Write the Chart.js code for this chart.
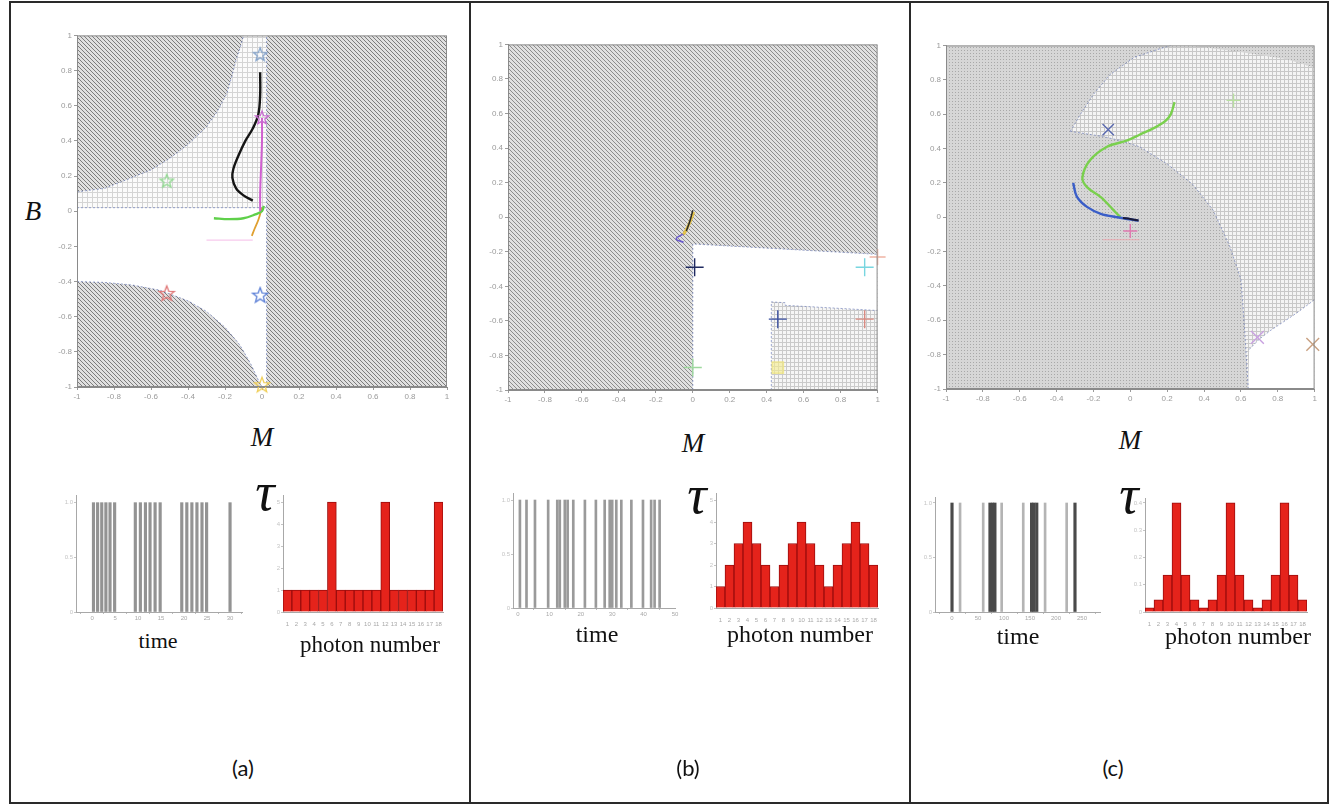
<!DOCTYPE html>
<html>
<head>
<meta charset="utf-8">
<script src="https://cdn.jsdelivr.net/npm/chart.js@4.4.1/dist/chart.umd.min.js"></script>
<style>
  html, body { margin: 0; padding: 0; background: #fff; }
  #fig { position: relative; width: 1330px; height: 806px; overflow: hidden; background: #fff; }
  .box { position: absolute; }
  .lbl { position: absolute; transform: translate(-50%, -50%); white-space: nowrap; color: #111; line-height: 1; }
  .serif { font-family: "Liberation Serif", "DejaVu Serif", serif; }
  .it { font-style: italic; }
  .sans { font-family: Lato, "Liberation Sans", sans-serif; }
  .rule { position: absolute; background: #2a2a2a; }
</style>
</head>
<body>
<div id="fig"></div>
<script>
// ---------- axis ticks ----------
const mbTicks = [-1, -0.8, -0.6, -0.4, -0.2, 0, 0.2, 0.4, 0.6, 0.8, 1];
const mbTickLabels = ['-1', '-0.8', '-0.6', '-0.4', '-0.2', '0', '0.2', '0.4', '0.6', '0.8', '1'];
const photonBins = ['1','2','3','4','5','6','7','8','9','10','11','12','13','14','15','16','17','18'];
const timeTicksA = [0, 5, 10, 15, 20, 25, 30];
const timeTicksB = [0, 10, 20, 30, 40, 50];
const timeTicksC = [0, 50, 100, 150, 200, 250];
const spikeYTicks = [0, 0.5, 1];
const histTicksAB = [0, 1, 2, 3, 4, 5];
const histTicksC = [0, 0.1, 0.2, 0.3, 0.4];

// ---------- panel (a): (M, B) plane ----------
const aGridZone   = [[-1, 0.02], [-1, 1], [0.025, 1], [0.025, 0.02]];
const aUpperHatch = [[-1, 1], [-1, 0.11], [-0.85, 0.13], [-0.73, 0.18], [-0.6, 0.235], [-0.5, 0.30], [-0.4, 0.38],
                     [-0.3, 0.48], [-0.24, 0.57], [-0.19, 0.67], [-0.165, 0.76], [-0.14, 0.86], [-0.115, 0.94], [-0.10, 1]];
const aLowerHatch = [[-1, -1], [-1, -0.40], [-0.85, -0.405], [-0.7, -0.42], [-0.55, -0.45], [-0.4, -0.51], [-0.3, -0.57],
                     [-0.2, -0.66], [-0.12, -0.76], [-0.06, -0.87], [-0.02, -0.96], [0, -1]];
const aRightHatch = [[0.025, -1], [0.025, 1], [1, 1], [1, -1]];
const aBlackPath   = [[-0.01, 0.79], [-0.01, 0.66], [-0.02, 0.55], [-0.05, 0.47], [-0.09, 0.40], [-0.13, 0.31],
                      [-0.155, 0.24], [-0.16, 0.19], [-0.14, 0.13], [-0.10, 0.09], [-0.05, 0.06]];
const aMagentaPath = [[0.0, 0.53], [0.0, 0.40], [-0.005, 0.25], [-0.01, 0.10], [-0.01, 0.0]];
const aGreenPath   = [[-0.26, -0.04], [-0.18, -0.045], [-0.10, -0.04], [-0.04, -0.02], [0.0, 0.0], [0.01, 0.03]];
const aOrangePath  = [[0.0, 0.02], [-0.02, -0.05], [-0.04, -0.10], [-0.055, -0.14]];
const aPinkPath    = [[-0.30, -0.165], [-0.05, -0.165]];
const aStarTop     = [-0.01, 0.89];
const aStarMagenta = [0.0, 0.53];
const aStarGreen   = [-0.515, 0.17];
const aStarRed     = [-0.515, -0.47];
const aStarBlue    = [-0.01, -0.48];
const aStarYellow  = [0.0, -0.99];

// ---------- panel (b) ----------
const bHatchAll = [[-1, -1], [-1, 1], [1, 1], [1, -1]];
const bClearZone = [[0, -1], [0, -0.155], [0.5, -0.185], [1, -0.215], [1, -1]];
const bGridZone  = [[0.425, -1], [0.425, -0.49], [0.5, -0.495], [0.5, -0.51], [1, -0.54], [1, -1]];
const bYellowPath = [[0.005, 0.03], [-0.02, -0.04], [-0.05, -0.10]];
const bBlackPath  = [[0.0, 0.04], [-0.015, -0.02], [-0.035, -0.08]];
const bPurplePath = [[-0.04, -0.09], [-0.09, -0.125], [-0.05, -0.145]];
const bPlusNavy   = [0.01, -0.29];
const bPlusCyan   = [0.93, -0.29];
const bPlusBlue   = [0.46, -0.59];
const bPlusSalmon = [0.93, -0.59];
const bPlusGreen  = [0.0, -0.87];
const bPlusEdge   = [1.0, -0.23];
const bSquareYellow = [0.46, -0.87];

// ---------- panel (c) ----------
const cShadeAll = [[-1, -1], [-1, 1], [1, 1], [1, -1]];
const cGridZone = [[-0.325, 0.50], [-0.27, 0.60], [-0.20, 0.715], [-0.11, 0.83], [0.02, 0.93], [0.16, 0.98], [0.22, 1.0],
                   [0.32, 1.0], [0.58, 0.965], [0.85, 0.92], [1.0, 0.87], [1.0, -1], [0.64, -1], [0.62, -0.65],
                   [0.60, -0.36], [0.54, -0.17], [0.45, 0.04], [0.34, 0.19], [0.20, 0.31], [0.05, 0.41],
                   [-0.05, 0.445], [-0.15, 0.47], [-0.325, 0.50]];
const cClearZone = [[0.64, -1], [0.645, -0.77], [0.70, -0.71], [0.76, -0.66], [0.83, -0.61], [0.90, -0.56], [1.0, -0.48], [1.0, -1]];
const cGreenPath = [[0.24, 0.67], [0.22, 0.60], [0.19, 0.56], [0.13, 0.52], [0.05, 0.48], [-0.02, 0.445], [-0.126, 0.41],
                    [-0.22, 0.33], [-0.26, 0.23], [-0.235, 0.175], [-0.16, 0.117], [-0.09, 0.04], [-0.054, 0.0]];
const cBluePath  = [[-0.31, 0.20], [-0.29, 0.12], [-0.235, 0.06], [-0.16, 0.02], [-0.07, 0.0], [0.045, -0.02]];
const cBlackPath = [[-0.04, -0.005], [0.0, -0.01], [0.045, -0.02]];
const cPinkPath  = [[-0.15, -0.13], [0.05, -0.13]];
const cCrossBlue   = [-0.12, 0.51];
const cPlusGreen   = [0.56, 0.68];
const cPlusPink    = [0.0, -0.08];
const cCrossPurple = [0.69, -0.70];
const cCrossTan    = [0.99, -0.74];

// ---------- spike trains ----------
const spikesA = [0.3, 1.2, 2.1, 3.0, 3.9, 4.9, 9.4, 10.5, 11.6, 12.6, 13.7, 14.8, 19.5, 20.6, 21.7, 22.8, 23.9, 24.9, 30.0];
const spikesB = [0.6, 2.7, 5.4, 9.6, 12.5, 13.3, 14.9, 15.8, 17.6, 21.3, 24.8, 27.6, 29.2, 30.0, 31.3, 32.9, 36.1, 39.8, 42.4, 43.5, 45.1];
const spikesCDark  = [0, 73, 78, 82.5, 153, 157.5, 163, 236.5];
const spikesCLight = [15.5, 60, 95.5, 137, 179, 220.5];

// ---------- photon-number histograms ----------
const histA = [1, 1, 1, 1, 1, 5, 1, 1, 1, 1, 1, 5, 1, 1, 1, 1, 1, 5];
const histB = [1, 2, 3, 4, 3, 2, 1, 2, 3, 4, 3, 2, 1, 2, 3, 4, 3, 2];
const histC = [0.015, 0.045, 0.135, 0.4, 0.135, 0.045, 0.015, 0.045, 0.135, 0.4, 0.135, 0.045, 0.015, 0.045, 0.135, 0.4, 0.135, 0.045];

// ================= drawing =================
const fig = document.getElementById('fig');

function tile(size, paint) {
  const c = document.createElement('canvas');
  c.width = c.height = size;
  const g = c.getContext('2d');
  paint(g, size);
  return g.createPattern(c, 'repeat');
}
function hatch(size, bg, fg, lw) {
  return tile(size, (g, s) => {
    g.fillStyle = bg; g.fillRect(0, 0, s, s);
    g.strokeStyle = fg; g.lineWidth = lw; g.beginPath();
    g.moveTo(-1, -1); g.lineTo(s + 1, s + 1);
    g.moveTo(-1, s - 1); g.lineTo(1, s + 1);
    g.moveTo(s - 1, -1); g.lineTo(s + 1, 1);
    g.stroke();
  });
}
function gridTile(size, bg, fg) {
  return tile(size, (g, s) => {
    g.fillStyle = bg; g.fillRect(0, 0, s, s);
    g.fillStyle = fg; g.fillRect(0, 0, s, 1); g.fillRect(0, 0, 1, s);
  });
}
function dotTile(size, bg, fg) {
  return tile(size, (g, s) => {
    g.fillStyle = bg; g.fillRect(0, 0, s, s);
    g.fillStyle = fg; g.fillRect(0, 0, 1, 1);
  });
}
function pentagram(color, r) {
  const s = Math.ceil(2 * r + 4), c = document.createElement('canvas');
  c.width = c.height = s;
  const g = c.getContext('2d');
  g.translate(s / 2, s / 2);
  g.beginPath();
  for (let i = 0; i < 10; i++) {
    const a = -Math.PI / 2 + i * Math.PI / 5, rr = i % 2 ? r * 0.42 : r;
    g.lineTo(rr * Math.cos(a), rr * Math.sin(a));
  }
  g.closePath();
  g.strokeStyle = color; g.lineWidth = 1.3; g.stroke();
  return c;
}

const hatchA = hatch(4, '#e0e0e0', '#7c7c7c', 1.0);
const hatchB = hatch(4, '#e0e0e0', '#8c8c8c', 1.0);
const gridA = gridTile(5, '#fbfbfb', '#d4d4d4');
const gridB = gridTile(4, '#f6f6f6', '#cacaca');
const gridC = gridTile(4, '#f4f4f4', '#c8c8c8');
const shadeC = dotTile(3, '#d6d6d6', '#a8a8a8');

const framePlugin = {
  id: 'frame',
  afterDatasetsDraw(chart) {
    const { ctx, chartArea: a } = chart;
    ctx.save();
    ctx.strokeStyle = '#8a8a8a';
    ctx.lineWidth = 1;
    ctx.strokeRect(a.left + 0.5, a.top + 0.5, a.width - 1, a.height - 1);
    ctx.restore();
  }
};

function makeChart(rect, pad, config) {
  const w = rect.r - rect.l + pad.l + pad.r;
  const h = rect.b - rect.t + pad.t + pad.b;
  const div = document.createElement('div');
  div.className = 'box';
  div.style.left = (rect.l - pad.l) + 'px';
  div.style.top = (rect.t - pad.t) + 'px';
  div.style.width = w + 'px';
  div.style.height = h + 'px';
  const c = document.createElement('canvas');
  c.width = w; c.height = h;
  c.style.width = w + 'px'; c.style.height = h + 'px';
  div.appendChild(c);
  fig.appendChild(div);
  const o = config.options;
  o.responsive = false;
  o.animation = false;
  o.devicePixelRatio = 1;
  o.events = [];
  o.layout = { padding: { top: pad.t, right: pad.r, left: 0, bottom: 0 } };
  o.scales.x.afterFit = s => { s.height = pad.b; };
  o.scales.y.afterFit = s => { s.width = pad.l; };
  o.plugins = { legend: { display: false }, tooltip: { enabled: false } };
  return new Chart(c, config);
}

const pts = arr => arr.map(([x, y]) => ({ x, y }));
function zone(arr, pattern, order) {
  return { data: pts(arr), showLine: true, fill: 'shape', backgroundColor: pattern, borderWidth: 0, pointRadius: 0, tension: 0, order };
}
function edge(arr, order) {
  return { data: pts(arr), showLine: true, fill: false, borderColor: 'rgba(80,100,175,0.55)', borderWidth: 1, borderDash: [2, 2], pointRadius: 0, tension: 0, order };
}
function path(arr, color, width, order = 5) {
  return { data: pts(arr), showLine: true, fill: false, borderColor: color, borderWidth: width, pointRadius: 0, tension: 0.35, order };
}
function mark(p, style, color, r = 7, order = 1, fillColor) {
  return { data: pts([p]), pointStyle: style, pointRadius: r, borderColor: color, backgroundColor: fillColor || color,
           borderWidth: 1.4, pointBorderWidth: 1.4, order, clip: false };
}

function phasePlot(rect, datasets) {
  const axis = pos => ({
    type: 'linear', position: pos, min: -1, max: 1,
    afterBuildTicks: s => { s.ticks = mbTicks.map(v => ({ value: v })); },
    ticks: { callback: (v, i) => mbTickLabels[i], font: { size: 8, family: 'Liberation Sans' }, color: '#9a9a9a', padding: 2, maxRotation: 0, autoSkip: false },
    grid: { drawOnChartArea: false, drawTicks: true, tickLength: 3, color: '#9a9a9a' },
    border: { display: true, color: '#8a8a8a' }
  });
  return makeChart(rect, { l: 30, r: 10, t: 8, b: 22 }, {
    type: 'scatter', data: { datasets },
    options: { scales: { x: axis('bottom'), y: axis('left') } },
    plugins: [framePlugin]
  });
}

function smallAxes(xcfg, ymax, yticks) {
  return {
    x: Object.assign({ ticks: { font: { size: 6 }, color: '#a8a8a8', padding: 1, maxRotation: 0, autoSkip: false },
                       grid: { drawOnChartArea: false, tickLength: 2, color: '#bbb' }, border: { color: '#a8a8a8' } }, xcfg),
    y: { type: 'linear', min: 0, max: ymax,
         afterBuildTicks: s => { s.ticks = yticks.map(v => ({ value: v })); },
         ticks: { font: { size: 6 }, color: '#c4c4c4', padding: 1 },
         grid: { drawOnChartArea: false, tickLength: 2, color: '#c4c4c4' }, border: { color: '#a8a8a8' } }
  };
}

function spikePlot(rect, datasets, xmin, xmax, xticks, ymax) {
  return makeChart(rect, { l: 20, r: 6, t: 6, b: 14 }, {
    type: 'bar', data: { datasets },
    options: { scales: smallAxes({ type: 'linear', min: xmin, max: xmax, offset: false,
                                   afterBuildTicks: s => { s.ticks = xticks.map(v => ({ value: v })); } }, ymax, spikeYTicks) }
  });
}
function spikeSet(times, color, thick) {
  return { data: times.map(t => ({ x: t, y: 1 })), backgroundColor: color, barThickness: thick, grouped: false };
}

function histPlot(rect, values, ymax, yticks) {
  return makeChart(rect, { l: 20, r: 6, t: 6, b: 14 }, {
    type: 'bar',
    data: { labels: photonBins, datasets: [{ data: values, backgroundColor: '#e5231b', borderColor: '#9b0d0d', borderWidth: 1,
                                              barPercentage: 1, categoryPercentage: 1 }] },
    options: { scales: smallAxes({ grid: { display: false } }, ymax, yticks) }
  });
}

// ---- (a) ----
phasePlot({ l: 77, r: 447, t: 35, b: 387 }, [
  mark(aStarTop, pentagram('#7f9fc8', 7), '#7f9fc8'),
  mark(aStarMagenta, pentagram('#c86ad0', 7), '#c86ad0'),
  mark(aStarGreen, pentagram('#8fd88f', 7), '#8fd88f'),
  mark(aStarRed, pentagram('#e07878', 8), '#e07878'),
  mark(aStarBlue, pentagram('#5b7fd6', 8), '#5b7fd6'),
  mark(aStarYellow, pentagram('#f0cf5a', 8), '#f0cf5a'),
  path(aBlackPath, '#151515', 2.4),
  path(aMagentaPath, '#d060d0', 2),
  path(aGreenPath, '#5fd04a', 2.4),
  path(aOrangePath, '#e0a030', 1.8),
  path(aPinkPath, 'rgba(240,150,220,0.5)', 1.2, 6),
  edge(aUpperHatch.slice(1), 10),
  edge(aLowerHatch.slice(1), 10),
  edge([[0.025, -1], [0.025, 1]], 10),
  edge([[-1, 0.02], [0.025, 0.02]], 10),
  zone(aRightHatch, hatchA, 20),
  zone(aLowerHatch, hatchA, 21),
  zone(aUpperHatch, hatchA, 22),
  zone(aGridZone, gridA, 23)
]);

// ---- (b) ----
phasePlot({ l: 508, r: 878, t: 42, b: 390 }, [
  mark(bPlusNavy, 'cross', '#1f2a60', 9),
  mark(bPlusCyan, 'cross', '#78d6e0', 9),
  mark(bPlusBlue, 'cross', '#3a4fa0', 9),
  mark(bPlusSalmon, 'cross', '#d98a80', 9),
  mark(bPlusGreen, 'cross', '#9ed99e', 9),
  mark(bPlusEdge, 'cross', '#f0b4a4', 8),
  mark(bSquareYellow, 'rect', 'rgba(240,228,120,0.7)', 8, 2, 'rgba(245,236,140,0.6)'),
  path(bBlackPath, '#2a2a2a', 1.5, 4),
  path(bYellowPath, '#e3c24a', 3, 5),
  path(bPurplePath, '#6a5acd', 1.6, 5),
  edge(bClearZone.slice(0, 4), 10),
  edge(bGridZone.slice(0, 5), 10),
  zone(bGridZone, gridB, 20),
  zone(bClearZone, '#ffffff', 21),
  zone(bHatchAll, hatchB, 22)
]);

// ---- (c) ----
phasePlot({ l: 946, r: 1315, t: 43, b: 389 }, [
  mark(cCrossBlue, 'crossRot', '#5a6ab0', 8),
  mark(cPlusGreen, 'cross', '#b8e0a0', 7),
  mark(cPlusPink, 'cross', '#e07ab0', 7),
  mark(cCrossPurple, 'crossRot', '#c8a0e0', 9),
  mark(cCrossTan, 'crossRot', '#c8a080', 9),
  path(cBlackPath, '#1a1a3a', 2, 4),
  path(cBluePath, '#3a5ec8', 2.4),
  path(cGreenPath, '#7ad04e', 2.4),
  path(cPinkPath, 'rgba(240,160,170,0.6)', 1.2, 6),
  edge(cGridZone.slice(0, 7), 10),
  edge(cGridZone.slice(12), 10),
  edge(cClearZone.slice(1, 7), 10),
  zone(cClearZone, '#ffffff', 20),
  zone(cGridZone, gridC, 21),
  zone(cShadeAll, shadeC, 22)
]);

// ---- spike trains ----
spikePlot({ l: 76, r: 242, t: 495, b: 612 }, [spikeSet(spikesA, '#939393', 2.5)], -3.5, 32.6, timeTicksA, 1.07);
spikePlot({ l: 513, r: 675, t: 493, b: 608 }, [spikeSet(spikesB, '#9a9a9a', 2)], -1.6, 50, timeTicksB, 1.065);
spikePlot({ l: 935, r: 1100, t: 497, b: 612 }, [spikeSet(spikesCDark, '#4a4a4a', 2.5), spikeSet(spikesCLight, '#b4b4b4', 2)], -32.7, 284.6, timeTicksC, 1.055);

// ---- histograms ----
histPlot({ l: 283, r: 443, t: 495, b: 612 }, histA, 5.32, histTicksAB);
histPlot({ l: 716, r: 878, t: 493, b: 608 }, histB, 5.35, histTicksAB);
histPlot({ l: 1145, r: 1307, t: 498, b: 612 }, histC, 0.418, histTicksC);

// ---- text ----
function label(text, x, y, cls, size) {
  const d = document.createElement('div');
  d.className = 'lbl ' + cls;
  d.style.left = x + 'px'; d.style.top = y + 'px';
  d.style.fontSize = size + 'px';
  d.textContent = text;
  fig.appendChild(d);
}
label('B', 33, 211, 'serif it', 27);
label('M', 262, 437, 'serif it', 27);
label('M', 693, 443, 'serif it', 27);
label('M', 1130, 440, 'serif it', 27);
label('τ', 265, 492, 'serif it', 54);
label('τ', 697, 495, 'serif it', 54);
label('τ', 1129, 495, 'serif it', 54);
label('time', 158, 641, 'serif', 22);
label('time', 597, 634, 'serif', 24);
label('time', 1018, 636, 'serif', 24);
label('photon number', 370, 644, 'serif', 23);
label('photon number', 800, 634, 'serif', 24);
label('photon number', 1238, 636, 'serif', 24);
label('(a)', 243, 768, 'sans', 22);
label('(b)', 688, 768, 'sans', 22);
label('(c)', 1113, 768, 'sans', 22);

// ---- panel frame ----
function rule(x, y, w, h) {
  const d = document.createElement('div');
  d.className = 'rule';
  d.style.left = x + 'px'; d.style.top = y + 'px';
  d.style.width = w + 'px'; d.style.height = h + 'px';
  fig.appendChild(d);
}
rule(9, 1, 1320, 2);
rule(9, 802, 1320, 2);
rule(9, 1, 2, 803);
rule(1327, 1, 2, 803);
rule(469, 1, 2, 803);
rule(909, 1, 2, 803);
</script>
</body>
</html>
